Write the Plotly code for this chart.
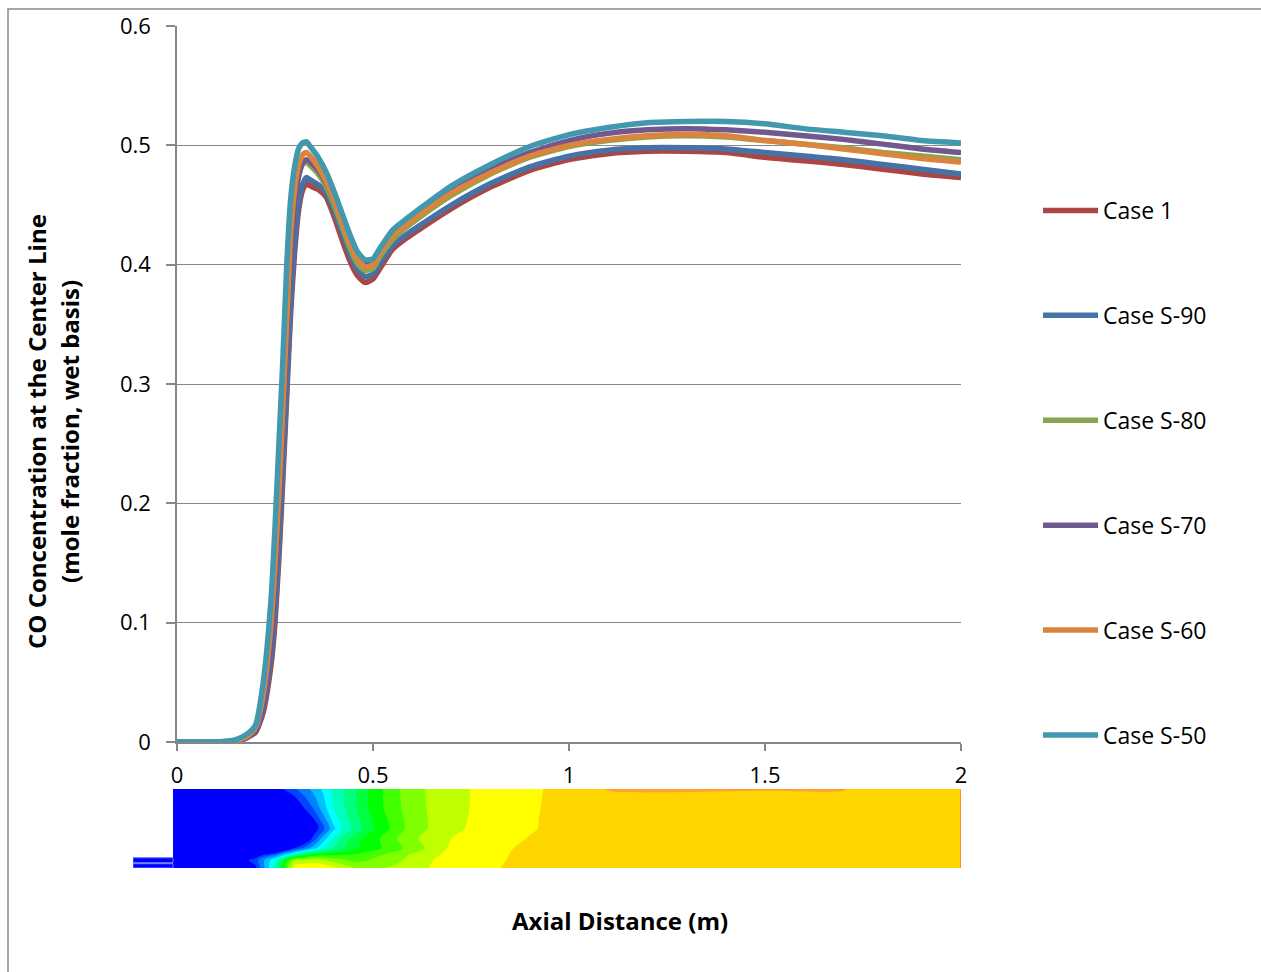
import plotly.graph_objects as go

# ---------------- data ----------------
x_axial = [0, 0.05, 0.1, 0.15, 0.18, 0.2, 0.22, 0.24, 0.25, 0.26, 0.27, 0.28, 0.29, 0.30, 0.31,
           0.32, 0.33, 0.34, 0.36, 0.38, 0.40, 0.42, 0.44, 0.46, 0.48, 0.50, 0.52, 0.55, 0.58,
           0.62, 0.7, 0.8, 0.9, 1.0, 1.1, 1.2, 1.3, 1.4, 1.5, 1.6, 1.7, 1.8, 1.9, 2.0]

case_1 = [0, 0, 0, 0, 0.004, 0.008, 0.025, 0.065, 0.10, 0.155, 0.22, 0.29, 0.36, 0.41, 0.445,
          0.462, 0.468, 0.466, 0.463, 0.457, 0.441, 0.422, 0.404, 0.391, 0.385, 0.388, 0.398,
          0.413, 0.421, 0.430, 0.447, 0.465, 0.479, 0.488, 0.493, 0.495, 0.495, 0.494, 0.490,
          0.487, 0.484, 0.480, 0.476, 0.473]
case_s90 = [0, 0, 0, 0, 0.004, 0.009, 0.028, 0.072, 0.108, 0.162, 0.228, 0.298, 0.368, 0.418,
            0.451, 0.467, 0.473, 0.471, 0.467, 0.461, 0.446, 0.428, 0.410, 0.396, 0.390, 0.392,
            0.402, 0.416, 0.424, 0.433, 0.450, 0.468, 0.482, 0.491, 0.496, 0.498, 0.498, 0.497,
            0.494, 0.491, 0.488, 0.484, 0.480, 0.476]
case_s80 = [0, 0, 0, 0.001, 0.005, 0.011, 0.035, 0.09, 0.135, 0.195, 0.265, 0.34, 0.41, 0.452,
            0.474, 0.484, 0.486, 0.483, 0.476, 0.466, 0.451, 0.433, 0.415, 0.401, 0.395, 0.397,
            0.408, 0.421, 0.430, 0.440, 0.458, 0.476, 0.490, 0.499, 0.504, 0.507, 0.508, 0.507,
            0.504, 0.501, 0.498, 0.494, 0.491, 0.488]
case_s70 = [0, 0, 0, 0.001, 0.004, 0.010, 0.032, 0.085, 0.13, 0.19, 0.26, 0.335, 0.405, 0.45,
            0.474, 0.485, 0.488, 0.486, 0.479, 0.469, 0.455, 0.438, 0.421, 0.408, 0.401, 0.403,
            0.413, 0.426, 0.434, 0.444, 0.462, 0.480, 0.494, 0.504, 0.510, 0.513, 0.514, 0.513,
            0.511, 0.508, 0.505, 0.501, 0.497, 0.494]
case_s60 = [0, 0, 0, 0.001, 0.005, 0.012, 0.04, 0.10, 0.15, 0.21, 0.28, 0.355, 0.425, 0.463,
            0.483, 0.492, 0.494, 0.491, 0.482, 0.470, 0.455, 0.437, 0.419, 0.405, 0.398, 0.400,
            0.411, 0.424, 0.432, 0.442, 0.460, 0.477, 0.491, 0.500, 0.505, 0.508, 0.509, 0.508,
            0.504, 0.501, 0.497, 0.493, 0.489, 0.486]
case_s50 = [0, 0, 0, 0.002, 0.007, 0.014, 0.05, 0.12, 0.18, 0.25, 0.32, 0.40, 0.455, 0.482,
            0.497, 0.502, 0.503, 0.499, 0.490, 0.478, 0.462, 0.444, 0.426, 0.411, 0.404, 0.405,
            0.415, 0.429, 0.437, 0.447, 0.466, 0.484, 0.499, 0.509, 0.515, 0.519, 0.520, 0.520,
            0.518, 0.514, 0.511, 0.508, 0.504, 0.502]

series_names = ["Case 1", "Case S-90", "Case S-80", "Case S-70", "Case S-60", "Case S-50"]
series_values = [case_1, case_s90, case_s80, case_s70, case_s60, case_s50]
series_colors = ["#AA4643", "#4572A7", "#89A54E", "#71588F", "#DB843D", "#4198AF"]

y_ticks = [0, 0.1, 0.2, 0.3, 0.4, 0.5, 0.6]
y_tick_labels = ["0", "0.1", "0.2", "0.3", "0.4", "0.5", "0.6"]
x_ticks = [0, 0.5, 1, 1.5, 2]
x_tick_labels = ["0", "0.5", "1", "1.5", "2"]

# contour field (colour level index), columns = axial position, rows = radial fraction
contour_x = [-0.01, 0.15, 0.20, 0.25, 0.30, 0.325, 0.35, 0.375, 0.40, 0.425, 0.45, 0.475, 0.50,
             0.55, 0.60, 0.70, 0.80, 0.90, 1.00, 1.10, 1.50, 1.70, 1.80, 2.00]
contour_y = [0, 0.1, 0.165, 0.25, 0.375, 0.5, 0.63, 0.75, 1.0]
contour_z = [
    [-1, -1, 0.2, 5.0, 12.0, 12.3, 12.4, 12.2, 11.8, 11.2, 10.6, 10.4, 10.3, 10.7, 11.2, 11.9, 12.4, 12.8, 13.0, 13.0, 13.0, 13.0, 13.0, 13.0],
    [-1, -0.5, 1.0, 4.2, 10.5, 10.8, 11.0, 10.6, 10.0, 9.6, 9.2, 9.3, 9.6, 10.0, 10.9, 12.0, 12.3, 12.8, 13.0, 13.0, 13.0, 13.0, 13.0, 13.0],
    [-2, -2, -0.3, 1.8, 5.2, 6.8, 8.0, 8.2, 8.4, 8.5, 8.6, 8.9, 9.2, 9.9, 10.65, 11.85, 12.25, 12.78, 13.0, 13.0, 13.0, 13.0, 13.0, 13.0],
    [-3, -3, -3, -3, 0.6, 1.83, 3.19, 4.58, 5.54, 6.5, 7.26, 7.75, 8.12, 9.0, 9.95, 11.7, 12.15, 12.75, 13.0, 13.0, 13.0, 13.0, 13.0, 13.0],
    [-3, -3, -3, -3, -3, -1.2, 1.0, 3.08, 4.75, 5.9, 6.85, 7.6, 8.1, 9.25, 10.3, 11.5, 12.0, 12.55, 12.95, 13.0, 13.0, 13.0, 13.0, 13.0],
    [-3, -3, -3, -3, -2, -1.5, -0.2, 1.33, 3.27, 4.66, 5.65, 6.59, 7.35, 8.7, 9.98, 11.3, 11.9, 12.4, 12.9, 13.0, 13.0, 13.0, 13.0, 13.0],
    [-3, -3, -3, -3, -3, -1.0, 0.6, 2.27, 4.05, 5.06, 5.95, 6.83, 7.6, 8.85, 10.0, 11.25, 11.85, 12.38, 12.9, 13.0, 13.0, 13.0, 13.0, 13.0],
    [-3, -3, -3, -3, -1, 0.45, 1.6, 3.09, 4.5, 5.36, 6.2, 7.07, 7.9, 9.0, 10.1, 11.2, 11.85, 12.35, 12.9, 13.0, 13.0, 13.0, 13.0, 13.0],
    [-3, -3, -3, 0, 1.35, 2.08, 2.85, 3.75, 4.8, 5.56, 6.25, 7.12, 7.85, 9.1, 10.15, 11.2, 11.83, 12.34, 12.8, 13.55, 13.55, 13.55, 13.0, 13.0],
]
contour_colors = ["#0000ff", "#0044ff", "#0080ff", "#00c0ff", "#00ffff", "#00ffbb", "#00ff80",
                  "#00ff40", "#00ff00", "#44ff00", "#80ff00", "#c0ff00", "#ffff00", "#ffd500",
                  "#ffa030"]

FONT = "'Open Sans', Lato, sans-serif"

fig = go.Figure()

for name, vals, col in zip(series_names, series_values, series_colors):
    fig.add_trace(go.Scatter(
        x=x_axial, y=vals, mode="lines", name=name,
        line=dict(color=col, width=5.5, shape="spline", smoothing=0.6),
        legendgroup=name, xaxis="x", yaxis="y",
    ))

n_lv = len(contour_colors) - 1
fig.add_trace(go.Contour(
    x=contour_x, y=contour_y, z=contour_z,
    xaxis="x2", yaxis="y2", showscale=False, showlegend=False, hoverinfo="skip",
    autocontour=False,
    contours=dict(start=0.5, end=n_lv - 0.5, size=1, coloring="fill", showlines=False),
    line=dict(width=0),
    colorscale=[[k / n_lv, c] for k, c in enumerate(contour_colors)],
))

W, H = 1261, 972
ml, mr, mt, mb = 133, 300, 26, 104
pw, ph = W - ml - mr, H - mt - mb


def px(xp):
    return (xp - ml) / pw


def py(yp):
    return (H - mb - yp) / ph


grid_col = "#878787"
tick_font = dict(family=FONT, size=22, color="#000000")
title_font = dict(family=FONT, size=24, color="#000000")

fig.update_layout(
    width=W, height=H,
    margin=dict(l=ml, r=mr, t=mt, b=mb, autoexpand=False),
    paper_bgcolor="white", plot_bgcolor="white",
    showlegend=True,
    legend=dict(
        x=px(1038), y=py(189), xanchor="left", yanchor="top",
        font=dict(family=FONT, size=23, color="#000000"),
        tracegroupgap=72, itemwidth=55, bgcolor="rgba(0,0,0,0)",
    ),
    xaxis=dict(
        domain=[px(177), px(961)], range=[0, 2], anchor="y", automargin=False,
        tickvals=x_ticks, ticktext=x_tick_labels, tickfont=tick_font,
        showgrid=False, zeroline=False, showline=True, linecolor=grid_col, linewidth=1.5,
        ticks="outside", ticklen=7, tickcolor=grid_col, tickwidth=1.5,
        ticklabelstandoff=6,
    ),
    yaxis=dict(
        domain=[py(742), py(26)], range=[0, 0.6], anchor="x", automargin=False,
        tickvals=y_ticks, ticktext=y_tick_labels, tickfont=tick_font,
        showgrid=True, gridcolor=grid_col, gridwidth=1.3,
        zeroline=False, showline=True, linecolor=grid_col, linewidth=1.5,
        ticks="outside", ticklen=9, tickcolor=grid_col, tickwidth=1.5,
        ticklabelstandoff=11,
    ),
    xaxis2=dict(domain=[0, px(961)], range=[-0.112, 2.0], anchor="y2", visible=False),
    yaxis2=dict(domain=[0, py(789)], range=[0, 1], anchor="x2", visible=False),
    annotations=[
        dict(text="<b>Axial Distance (m)</b>", x=px(620), y=py(920), xref="paper", yref="paper",
             showarrow=False, font=title_font, xanchor="center", yanchor="middle"),
        dict(text="<b>CO Concentration at the Center Line</b>",
             x=px(36), y=py(432), xref="paper", yref="paper", textangle=-90,
             showarrow=False, font=title_font, xanchor="center", yanchor="middle"),
        dict(text="<b>(mole fraction, wet basis)</b>",
             x=px(69), y=py(432), xref="paper", yref="paper", textangle=-90,
             showarrow=False, font=title_font, xanchor="center", yanchor="middle"),
    ],
    shapes=[
        # outer chart frame
        dict(type="rect", xref="paper", yref="paper", x0=px(8), x1=px(1300), y0=py(1000), y1=py(9),
             line=dict(color="#8a8a8a", width=1.5), fillcolor="rgba(0,0,0,0)", layer="below"),
        # inlet nozzle
        dict(type="rect", xref="x2", yref="y2", x0=-0.112, x1=-0.01, y0=0.067, y1=0.13,
             line=dict(color="#6677ff", width=1), fillcolor="#0000ff"),
        dict(type="rect", xref="x2", yref="y2", x0=-0.112, x1=-0.01, y0=0.0, y1=0.054,
             line=dict(color="#6677ff", width=1), fillcolor="#0000ff"),
        # outlet edge
        dict(type="line", xref="x2", yref="y2", x0=2.0, x1=2.0, y0=0, y1=1,
             line=dict(color="#ff6060", width=1.2)),
    ],
)

fig.write_html("out.html")
